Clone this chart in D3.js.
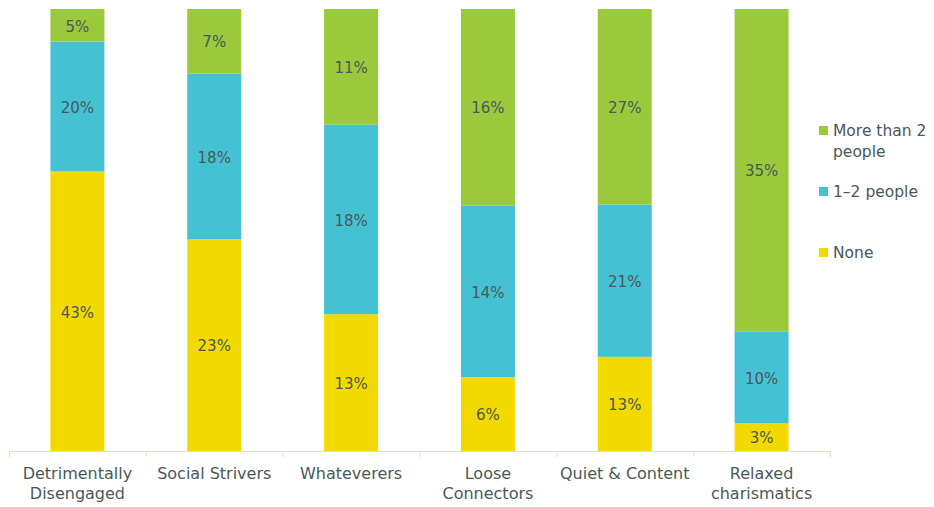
<!DOCTYPE html>
<html><head><meta charset="utf-8">
<script src="https://cdn.jsdelivr.net/npm/d3@7"></script>
<style>body{margin:0;background:#fff}svg{display:block}</style>
</head><body>
<svg id="c" width="934" height="507"></svg>
<script>
const categories = [["Detrimentally","Disengaged"],["Social Strivers"],["Whateverers"],["Loose","Connectors"],["Quiet & Content"],["Relaxed","charismatics"]];
const none = [43, 23, 13, 6, 13, 3];
const oneTwo = [20, 18, 18, 14, 21, 10];
const moreThan2 = [5, 7, 11, 16, 27, 35];
const seriesNames = ["None", "1\u20132 people", "More than 2 people"];
const colors = ["#f2da00", "#44c2d3", "#9bc93c"];

const svg = d3.select("#c");
const font = "'DejaVu Sans', sans-serif";
const textColor = "#4a5858";
const x = d3.scaleBand().domain(d3.range(categories.length)).range([9, 830]).paddingInner(0).paddingOuter(0);
const y = d3.scaleLinear().domain([0, 1]).range([451, 9]);
const bw = 54;

const rows = categories.map((c, i) => ({i, v: [none[i], oneTwo[i], moreThan2[i]]}));
rows.forEach(r => {
  const tot = d3.sum(r.v);
  let acc = 0;
  r.v.forEach((v, k) => {
    const y0 = acc / tot, y1 = (acc + v) / tot;
    acc += v;
    const cx = x(r.i) + x.bandwidth() / 2;
    svg.append("rect").attr("x", cx - bw / 2).attr("width", bw)
      .attr("y", y(y1)).attr("height", y(y0) - y(y1)).attr("fill", colors[k]);
    svg.append("text").attr("x", cx).attr("y", (y(y0) + y(y1)) / 2 + 1)
      .attr("dy", "0.35em").attr("text-anchor", "middle")
      .attr("font-family", font).attr("font-size", 15).attr("fill", textColor)
      .text(v + "%");
  });
});

// axis
const axisColor = "#d4e7c2";
svg.append("line").attr("x1", 9).attr("x2", 830).attr("y1", 451.5).attr("y2", 451.5).attr("stroke", axisColor);
d3.range(categories.length + 1).forEach(i => {
  const xx = (i < categories.length ? x(i) : x(categories.length - 1) + x.bandwidth());
  svg.append("line").attr("x1", xx + 0.5).attr("x2", xx + 0.5).attr("y1", 451).attr("y2", 457).attr("stroke", axisColor);
});
categories.forEach((c, i) => {
  const t = svg.append("text").attr("x", x(i) + x.bandwidth() / 2).attr("y", 479)
    .attr("text-anchor", "middle").attr("font-family", font).attr("font-size", 16).attr("fill", textColor);
  c.forEach((line, j) => t.append("tspan").attr("x", x(i) + x.bandwidth() / 2).attr("dy", j ? 20 : 0).text(line));
});

// legend
const legend = [
  {name: ["More than 2", "people"], color: colors[2], y: 130},
  {name: ["1\u20132 people"], color: colors[1], y: 191},
  {name: ["None"], color: colors[0], y: 252}
];
legend.forEach(l => {
  svg.append("rect").attr("x", 819).attr("y", l.y - 4).attr("width", 9).attr("height", 9).attr("fill", l.color);
  const t = svg.append("text").attr("x", 833).attr("y", l.y + 6)
    .attr("font-family", font).attr("font-size", 15.5).attr("fill", textColor);
  l.name.forEach((line, j) => t.append("tspan").attr("x", 833).attr("dy", j ? 21 : 0).text(line));
});
</script>
</body></html>
